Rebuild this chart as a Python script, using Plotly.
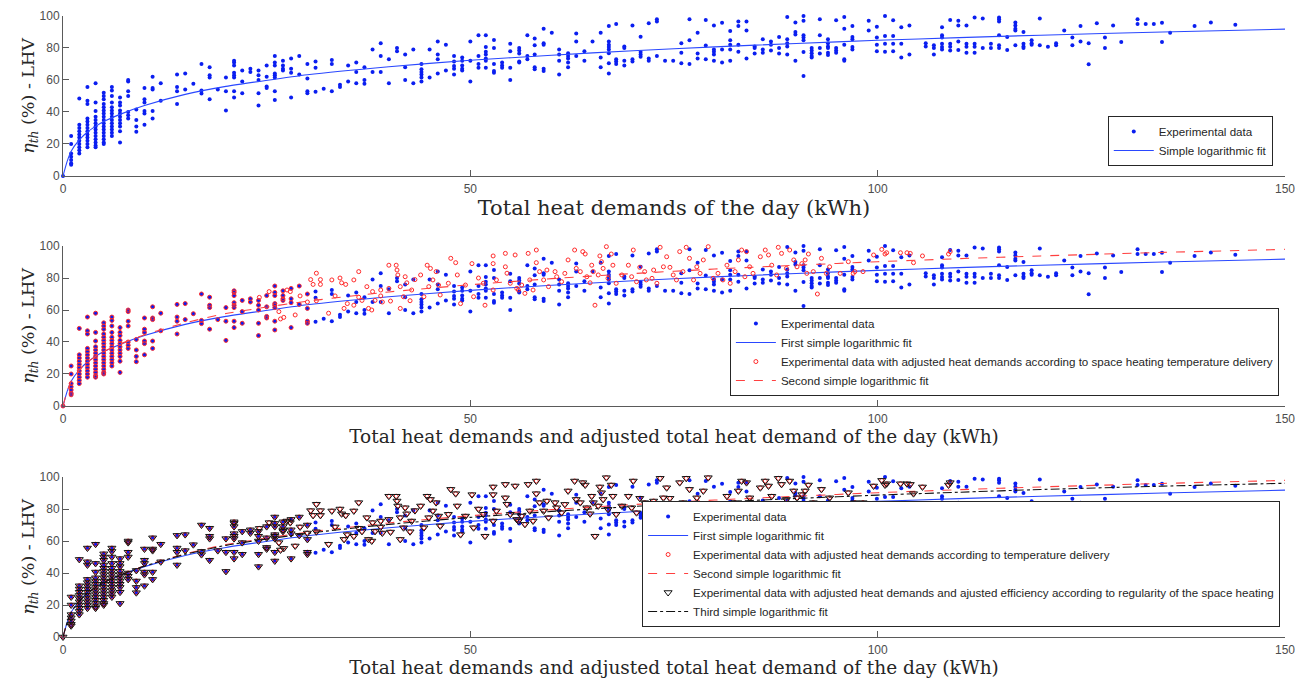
import plotly.graph_objects as go

# ---------------- data ----------------
x_ticks = [0, 50, 100, 150]
y_ticks = [0, 20, 40, 60, 80, 100]

# Experimental data (blue dots), grouped by x column (kWh) -> efficiencies (%)
exp_col_x = [0, 1, 2, 3, 4, 5, 6, 7, 8, 9, 10, 11, 12, 14, 15, 16, 17, 18, 19, 20,
             21, 22, 23, 24, 25, 26, 27, 28, 29, 30, 31, 32, 33, 34, 35, 36, 37, 38, 39, 40,
             41, 42, 43, 44, 45, 46, 47, 48, 49, 50, 51,
             51.9, 52.9, 53.9, 54.9, 56.0, 57.0, 57.9, 59.0, 60.0, 60.9, 62.0, 63.0, 64.0, 65.0,
             66.0, 67.0, 67.9, 68.9, 69.9, 70.9, 71.9, 72.9, 73.9, 74.9, 75.9, 76.9, 77.9, 78.9,
             79.9, 80.9, 81.9, 82.9, 83.9, 84.9, 85.9, 86.9, 87.9, 88.9, 89.9, 90.9, 91.9, 92.9,
             93.9, 94.9, 95.9, 96.9, 98.9, 99.9,
             100.9, 101.9, 102.9, 103.9, 105.9, 106.9, 107.9, 108.9, 109.9, 110.9, 111.9, 112.9,
             113.9, 114.9, 115.9, 116.9, 117.9, 118.9, 119.9, 120.9, 121.9, 122.9, 123.9, 124.9,
             125.9, 126.9, 127.9, 128.9, 129.9, 131.9, 132.9, 133.9, 134.9, 135.9, 138.9, 140.9,
             143.9]
exp_col_y = [
    [0],
    [25, 20, 14, 12, 10, 8, 7],
    [48.5, 32, 30, 28, 26, 24, 22, 20, 18, 16, 14],
    [55.6, 47, 45, 36, 34, 32, 30, 28, 26, 24, 22, 20, 18],
    [58, 46, 40.6, 37, 35, 33, 31, 29, 27, 25, 23, 21, 19, 18],
    [52, 50, 48, 45, 43, 41, 39, 37, 35, 33, 31, 29, 27, 25, 23, 21, 20],
    [55.6, 53.5, 50, 46, 43, 41, 39, 37, 35, 33, 31, 29, 27, 25],
    [49, 46, 44, 41, 39, 37, 35, 33, 31, 28, 21],
    [60, 59, 53, 50, 40, 38, 36],
    [41.6, 35, 31, 27.7],
    [55, 48, 46, 40.6, 39, 32],
    [62, 55, 54, 40.6, 36],
    [58, 47],
    [63.5, 55.6, 53, 45],
    [64, 54],
    [57.7],
    [70, 53.5, 51.5],
    [68, 63, 61.5, 48],
    [54],
    [61.5, 53, 41],
    [72, 71, 69, 64.6, 63, 61.5, 53, 49],
    [66, 59, 51.7],
    [67, 65],
    [66, 63, 60, 51.7, 44],
    [69, 62, 56, 55],
    [75, 71, 69, 64, 63, 61.5, 53, 47.5],
    [72, 69, 67, 66],
    [73.5, 67, 64.6, 49],
    [75, 63.5],
    [70, 61, 53, 51.7],
    [71.5, 67.7, 52.7],
    [54.6],
    [72.5, 70, 53],
    [57, 55.6],
    [69, 59],
    [71, 65, 58],
    [68, 60, 57.7],
    [79, 65],
    [83, 75, 65],
    [73, 58],
    [80, 78],
    [76, 68, 60],
    [79, 58],
    [70, 66.7, 65, 63.5, 61.5, 59],
    [79, 61.5],
    [84, 76, 73, 64],
    [82, 66],
    [75, 71.5, 68.8, 67, 63.5],
    [74, 72, 69, 67, 66],
    [84, 72, 59],
    [88, 75, 70, 67.7],
    [88, 80.6, 77.7, 76, 73.5, 72, 67.7],
    [85, 80, 70, 65.6, 64.6],
    [71, 69, 67.7],
    [82.7, 78, 67.7, 60],
    [80, 78.5, 76.5, 71.5, 71],
    [88, 75, 73],
    [86, 81.7, 76, 68, 66.7],
    [92, 83, 82, 67, 65.6],
    [89.6],
    [79, 76, 72, 63.5],
    [76.7, 75, 73.5, 71, 68],
    [89, 84, 75],
    [78, 72],
    [84],
    [89.6, 74, 68],
    [93.8, 84, 82, 80.6, 79, 76.7, 70.4, 64],
    [95, 73, 71.5, 70],
    [81, 80, 72, 69],
    [94, 73, 71.5],
    [87, 77.5, 76, 74.6],
    [95.4, 73.5, 72],
    [98, 96.5, 75],
    [72],
    [72],
    [83, 77, 70.4],
    [98, 84.8, 70],
    [89.6, 76.5, 73.5],
    [97.5, 81.5, 73],
    [94, 79, 77.7, 76, 72],
    [95.8, 79, 71],
    [90.6, 84.8, 82, 79, 72],
    [96.5, 93.8, 82, 77.7],
    [96.5, 91, 73.5],
    [81, 80, 76.5],
    [85.4, 79, 77],
    [84, 82, 78.5],
    [86.9, 80, 76.5],
    [99.4, 85.4, 83, 81, 76],
    [96, 90, 88.5, 72],
    [100, 97, 88, 86.5, 84.8, 77.5, 62.5],
    [80, 78.5, 76.7, 75, 74],
    [98, 88, 80, 76.5],
    [85.4, 83, 81, 80, 77, 75.6],
    [97.3, 80, 78.5, 77],
    [99.4, 92, 82, 73, 72],
    [93.8, 86.9, 85.4, 80.6, 79],
    [97, 91],
    [93.3, 86.5, 82, 78],
    [100, 87.5, 82.7, 77.7],
    [97.3, 87.5, 82.7, 78],
    [93, 82.7, 74],
    [94, 76],
    [83, 81],
    [81.7, 80, 76],
    [93, 88, 86.5, 82.7, 80.6, 79],
    [97.5, 82.7, 80.8, 78.5],
    [97, 94, 84, 78.8],
    [94, 82.7, 80.8, 77],
    [99, 82.7, 80.8, 77],
    [98.5, 80],
    [82.7, 80],
    [99, 98, 96.5, 88, 81.7, 80],
    [86.9, 78.8],
    [96, 94, 92, 91, 81.7],
    [90, 82.7, 81, 80],
    [84.8, 83, 82],
    [98.5, 81.7],
    [80.8],
    [83, 81.7],
    [91],
    [86.5, 81.7],
    [93.8, 84],
    [83, 69.8],
    [95.4],
    [86.5, 80],
    [94],
    [83.8],
    [98, 95],
    [95],
    [95],
    [95.8, 83.8],
    [89.6],
    [93.8],
    [96],
    [94.6],
]

# Adjusted heat demands (red open circles): points that separate from the blue dots
adj_x_extra = [24.1, 25.3, 26.5, 26.7, 27.1, 27.5, 27.9, 28.5, 29.1, 30.0, 30.4, 30.7, 31.1, 31.1,
               31.6, 31.6, 32.6, 33.0, 33.4, 34.0, 34.2, 34.5, 34.7, 34.9, 35.7, 35.7, 36.3, 36.3,
               36.7, 37.3, 37.5, 37.9, 38.0, 38.3, 39.0, 39.0, 39.2, 40.0, 40.0, 40.2, 40.9, 41.0,
               41.1, 41.4, 41.4, 41.8, 42.0, 42.2, 42.6, 42.8, 43.2, 43.9, 44.3, 44.7, 44.9, 45.1,
               45.4, 45.8, 46.1, 46.3, 47.3, 47.6, 48.2, 48.4, 48.8, 49.4, 50.2, 50.4, 51.0,
               51.6, 51.8, 52.8, 52.8, 52.8, 53.2, 54.3, 54.3, 54.5, 54.9, 55.5, 55.7, 55.9, 56.3,
               56.7, 57.1, 57.3, 57.7, 58.1, 58.1, 58.5, 59.0, 59.4, 59.6, 60.4, 60.6, 61.2, 61.6,
               62.0, 62.8, 63.0, 63.5, 63.8, 64.1, 64.3, 64.7, 64.9, 65.1, 65.3, 65.7, 65.9, 66.1,
               66.3, 66.7, 66.9, 67.3, 67.5, 67.9, 68.6, 69.4, 69.8, 70.0, 70.4, 70.8, 71.4, 71.6,
               72.3, 72.5, 72.9, 73.3, 73.7, 74.1, 74.5, 74.9, 75.3, 75.7, 76.1, 76.5, 76.9, 77.4,
               77.8, 78.2, 78.6, 79.2, 79.8, 80.4, 81.0, 81.5, 81.9, 82.5, 82.9, 83.3, 83.7, 83.9,
               84.3, 84.7, 85.6, 86.2, 86.6, 87.0, 87.6, 87.8, 88.2, 88.8, 89.2, 89.7, 90.1, 90.7,
               91.1, 91.3, 91.5, 92.1, 92.6, 93.1, 93.7, 94.1, 95.4, 96.4, 97.0, 97.2, 98.2, 99.5,
               100.5, 100.9, 101.1, 102.8, 103.6, 104.0, 104.4, 105.5, 108.7, 108.9]
adj_y_extra = [67.9, 71.5, 59, 54.4, 55.4, 72.5, 71.5, 56.9, 68.8, 65, 79, 76, 83, 65.8,
               79, 76, 58, 78.8, 68.8, 80, 77, 61, 76, 64, 63, 78.8, 84, 68,
               66, 74.6, 61, 60, 71.5, 66, 72.5, 68.8, 65, 88, 73.5, 65.6, 88, 85,
               81.9, 74.6, 61, 68.3, 80.8, 77, 65.8, 72.5, 79, 81.9, 68.3, 88, 74.6, 86,
               78.8, 84, 75.6, 69.4, 76.7, 92.3, 89.6, 81.9, 64, 75.6, 89, 68.3, 80,
               76.7, 63, 93.8, 89, 72.5, 78.8, 95.4, 87, 83, 76.7, 94.4, 73.5, 72.5, 75.6,
               70.4, 95.4, 78.8, 72.5, 97.5, 89.6, 84, 78.8, 85, 74.6, 84, 80.8, 77.7, 82.9,
               91.3, 97.5, 86, 84, 96.5, 95, 80.8, 77, 88, 84, 63, 81.9, 93.8, 90.2,
               86, 99.6, 79.8, 95, 88, 76.7, 81.9, 88, 80.8, 97.5, 77.7, 86.7, 84, 78.8,
               79.8, 85, 76.7, 99.2, 87, 93.3, 86.7, 81.9, 78.8, 96.5, 84, 99.2, 92.3, 78.8,
               87, 82.9, 91.3, 99.6, 79.8, 82.9, 78.8, 88, 76.7, 84, 91.3, 97.5, 80.8, 96.5,
               87, 82.9, 93.3, 97.5, 94.4, 88, 81.9, 99.2, 95.4, 86, 97.5, 91.3, 87, 89,
               91.3, 82.9, 95, 84, 70, 92.3, 82.9, 87, 82.9, 90.2, 82.9, 84, 84, 94.4,
               97.9, 95, 95.8, 95.8, 95.8, 95.4, 89.6, 93.8, 95, 96.5]

# Logarithmic fits
fit_x = [0, 0.5, 1, 2, 3, 4, 5, 7, 10, 15, 20, 30, 40, 50, 60, 70, 80, 90, 100, 110,
         120, 135, 150]
fit1_y = [0, 9, 15.5, 22.5, 27.5, 31, 34, 38.5, 44, 51, 56, 63.3, 68.3, 72.3, 75.5, 78.3,
          80.7, 82.8, 84.8, 86.5, 88, 90, 91.8]
fit2_y = [0, 9, 15.5, 22.5, 27.5, 31, 34, 38.7, 44.5, 52, 57.8, 65.5, 71.3, 75.8, 79.6,
          82.8, 85.6, 88, 90.2, 92.1, 93.8, 96, 97.9]
fit3_y = [0, 9, 15.5, 22.5, 27.5, 31, 34, 38.6, 44.3, 51.7, 57.3, 64.8, 70.4, 74.8, 78.5,
          81.6, 84.3, 86.6, 88.7, 90.5, 92.2, 94.3, 96.1]

# ---------------- build ----------------
exp_x = [cx for cx, col in zip(exp_col_x, exp_col_y) for _ in col]
exp_y = [v for col in exp_col_y for v in col]
same_x = [x for x in exp_x if x <= 30]
same_y = [y for x, y in zip(exp_x, exp_y) if x <= 30]
adj_x = same_x + adj_x_extra
adj_y = same_y + adj_y_extra

BLUE = "#0a1ef0"
FIT_BLUE = "#2a48ff"
RED = "#ff2a2a"
SANS = "Liberation Sans, Arial, sans-serif"
SERIF = "DejaVu Serif, serif"

fig = go.Figure()

def add_exp(ax, leg):
    fig.add_trace(go.Scatter(x=exp_x, y=exp_y, mode="markers", name="Experimental data",
                             marker=dict(color=BLUE, size=4), cliponaxis=False,
                             xaxis="x" + ax, yaxis="y" + ax, legend=leg))

def add_fit(ax, leg, yvals, name, color, dash):
    fig.add_trace(go.Scatter(x=fit_x, y=yvals, mode="lines", name=name,
                             line=dict(color=color, width=1.1, dash=dash, shape="spline", smoothing=0.5),
                             xaxis="x" + ax, yaxis="y" + ax, legend=leg))

def add_adj(ax, leg, name):
    fig.add_trace(go.Scatter(x=adj_x, y=adj_y, mode="markers", name=name,
                             marker=dict(color=RED, size=4, symbol="circle-open", line=dict(width=1)),
                             cliponaxis=False, xaxis="x" + ax, yaxis="y" + ax, legend=leg))

# panel 1
add_exp("", "legend")
add_fit("", "legend", fit1_y, "Simple logarithmic fit", FIT_BLUE, "solid")
# panel 2
add_exp("2", "legend2")
add_fit("2", "legend2", fit1_y, "First simple logarithmic fit", FIT_BLUE, "solid")
add_adj("2", "legend2", "Experimental data with adjusted heat demands according to space heating temperature delivery")
add_fit("2", "legend2", fit2_y, "Second simple logarithmic fit", "#ff4040", "dash")
# panel 3
add_exp("3", "legend3")
add_fit("3", "legend3", fit1_y, "First simple logarithmic fit", FIT_BLUE, "solid")
add_adj("3", "legend3", "Experimental data with adjusted heat demands according to temperature delivery")
add_fit("3", "legend3", fit2_y, "Second simple logarithmic fit", "#ff4040", "dash")
fig.add_trace(go.Scatter(x=adj_x, y=adj_y, mode="markers",
                         name="Experimental data with adjusted heat demands and ajusted efficiency according to regularity of the space heating",
                         marker=dict(color="#111111", size=7, symbol="triangle-down-open", line=dict(width=1)),
                         cliponaxis=False, xaxis="x3", yaxis="y3", legend="legend3"))
add_fit("3", "legend3", fit3_y, "Third simple logarithmic fit", "#111111", "dashdot")

ytitle = "<i>η<sub>th</sub></i> (%) - LHV"
xtitles = ["Total heat demands of the day (kWh)",
           "Total heat demands and adjusted total heat demand of the day (kWh)",
           "Total heat demands and adjusted total heat demand of the day (kWh)"]
xtitle_sizes = [21, 18.5, 18.5]
doms = [[0.7424, 1.0], [0.372, 0.6296], [0.0, 0.2576]]

axis_common = dict(showline=True, linecolor="#5a5a5a", linewidth=1, ticks="inside", ticklen=6,
                   tickcolor="#5a5a5a", showgrid=False, zeroline=False, automargin=False,
                   tickfont=dict(family=SANS, size=12, color="#4d4d4d"))

# the page body adds an 8 px offset, so the figure is 8 px smaller and margins shifted
layout = dict(width=1295, height=678, plot_bgcolor="white", paper_bgcolor="white",
              margin=dict(l=55, r=18, t=8, b=49), showlegend=True)
for i in range(3):
    sfx = "" if i == 0 else str(i + 1)
    layout["xaxis" + sfx] = dict(axis_common, domain=[0, 1], range=[0, 150], tickvals=x_ticks,
                                 anchor="y" + sfx, ticklabelstandoff=2,
                                 title=dict(text=xtitles[i],
                                            font=dict(family=SERIF, size=xtitle_sizes[i], color="#262626"),
                                            standoff=2))
    layout["yaxis" + sfx] = dict(axis_common, domain=doms[i], range=[0, 100], tickvals=y_ticks,
                                 anchor="x" + sfx,
                                 title=dict(text=ytitle, font=dict(family=SERIF, size=17.5, color="#262626"),
                                            standoff=0))

leg_common = dict(bgcolor="white", bordercolor="#262626", borderwidth=1,
                  font=dict(family=SANS, size=11.6, color="#262626"), xanchor="right", yanchor="bottom",
                  itemwidth=40)
layout["legend"] = dict(leg_common, x=0.990, y=0.7585)
layout["legend2"] = dict(leg_common, x=0.995, y=0.388)
layout["legend3"] = dict(leg_common, x=0.996, y=0.0161)

fig.update_layout(**layout)
fig.write_html("out.html")
